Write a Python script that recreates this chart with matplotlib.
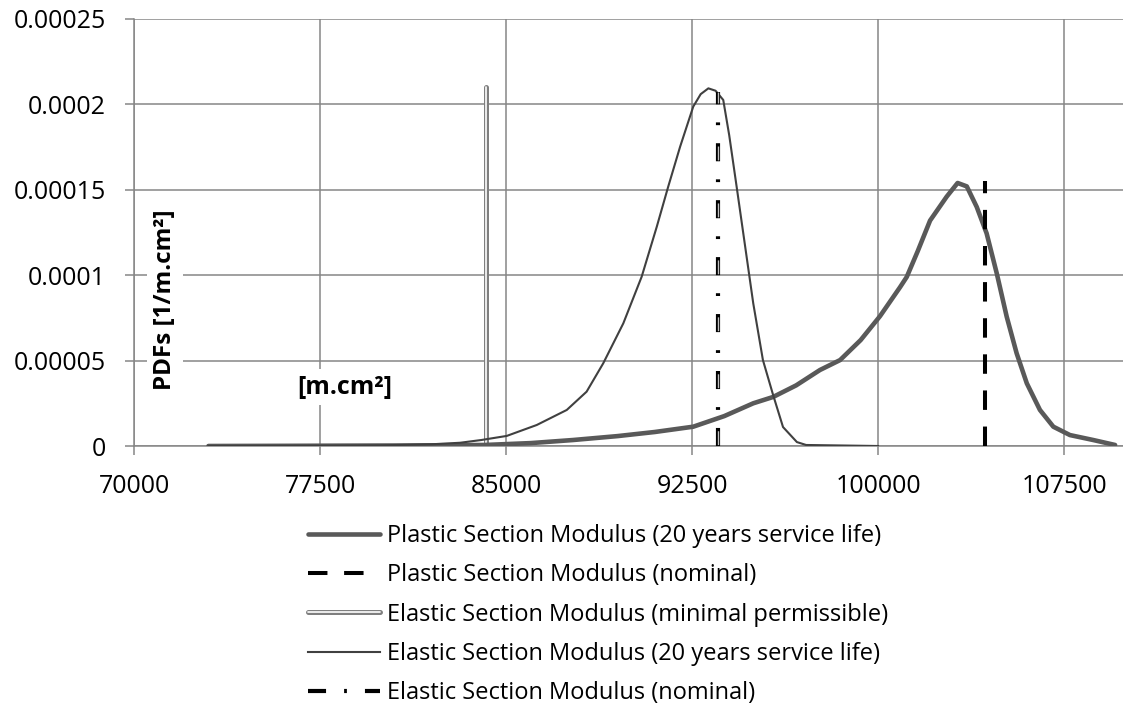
import matplotlib
matplotlib.use("Agg")
import matplotlib.pyplot as plt
import matplotlib.patheffects as pe

plt.rcParams['font.family'] = ['Open Sans', 'DejaVu Sans']
plt.rcParams['lines.scale_dashes'] = False

# values
plastic_x = [73000, 76000, 78300, 81000, 84150, 86000, 87700, 89500, 91000, 92550,
             93800, 94970, 95770, 96700, 97660, 98470, 99300, 100080, 100890, 101160,
             101600, 102100, 102770, 103210, 103580, 103980, 104380, 104790, 105190,
             105590, 106000, 106530, 107070, 107740, 108680, 109560]
plastic_y = [0, 0.0000001, 0.0000002, 0.0000003, 0.0000006, 0.0000017, 0.0000035,
             0.0000058, 0.0000082, 0.0000113, 0.0000175, 0.000025, 0.0000287,
             0.0000355, 0.0000445, 0.0000503, 0.000062, 0.000076, 0.000093, 0.000099,
             0.000114, 0.000132, 0.000146, 0.000154, 0.000152, 0.00014, 0.0001245,
             0.000101, 0.0000757, 0.0000543, 0.0000367, 0.0000211, 0.0000113,
             0.0000064, 0.0000035, 0.0000006]

elastic_x = [73000, 78000, 80000, 82000, 83150, 84000, 85030, 86240, 87450, 88250,
             88920, 89730, 90470, 91080, 91540, 92020, 92550, 92850, 93160, 93450,
             93760, 94000, 94300, 94970, 95360, 95770, 96170, 96730, 97100, 100000]
elastic_y = [0, 0.0000002, 0.0000004, 0.000001, 0.0000019, 0.0000035, 0.0000059,
             0.0000123, 0.0000211, 0.0000318, 0.0000484, 0.0000718, 0.0000991,
             0.0001284, 0.0001518, 0.0001752, 0.0001987, 0.000206, 0.0002094,
             0.000208, 0.0002026, 0.000182, 0.0001518, 0.0000835, 0.0000503,
             0.0000299, 0.0000111, 0.0000023, 0.0000006, 0]

plastic_nominal = 104315
plastic_nominal_top = 0.000155
elastic_min = 84180
elastic_min_top = 0.00021
elastic_nominal = 93530
elastic_nominal_top = 0.000207

x_ticks = [70000, 77500, 85000, 92500, 100000, 107500]
y_ticks = [0, 0.00005, 0.0001, 0.00015, 0.0002, 0.00025]
y_ticklabels = ['0', '0.00005', '0.0001', '0.00015', '0.0002', '0.00025']

labels = ['Plastic Section Modulus (20 years service life)',
          'Plastic Section Modulus (nominal)',
          'Elastic Section Modulus (minimal permissible)',
          'Elastic Section Modulus (20 years service life)',
          'Elastic Section Modulus (nominal)']

fig = plt.figure(figsize=(11.23, 7.04), dpi=100)
ax = fig.add_axes([134 / 1123, 1 - 446 / 704, 992 / 1123, 427 / 704])

grid_c = '#868686'

l1, = ax.plot(plastic_x, plastic_y, color='#595959', lw=3.3,
              solid_capstyle='round', solid_joinstyle='round', zorder=4)
l2, = ax.plot([plastic_nominal, plastic_nominal], [0, plastic_nominal_top],
              color='black', lw=2.9, linestyle=(0, (14, 12)), zorder=5)
l3, = ax.plot([elastic_min, elastic_min], [0, elastic_min_top], color='white',
              lw=1.2, solid_capstyle='round', zorder=3,
              path_effects=[pe.Stroke(linewidth=3.6, foreground='#7f7f7f'), pe.Normal()])
l4, = ax.plot(elastic_x, elastic_y, color='#404040', lw=1.5,
              solid_joinstyle='round', zorder=4)
# dash-dot line: black pattern with a light core inside the dashes
l5, = ax.plot([elastic_nominal, elastic_nominal], [0, elastic_nominal_top],
              color='black', lw=3.0, linestyle=(0, (13, 13, 2, 13)), zorder=5)
ax.plot([elastic_nominal, elastic_nominal], [0, elastic_nominal_top],
        color='#bfbfbf', lw=1.0, linestyle=(40, (10, 31)), zorder=6)

ax.set_xlim(70000, 110000)
ax.set_ylim(0, 0.00025)
ax.set_xticks(x_ticks)
ax.set_xticklabels([str(v) for v in x_ticks])
ax.set_yticks(y_ticks)
ax.set_yticklabels(y_ticklabels)
ax.grid(True, color=grid_c, lw=1.1)
ax.set_axisbelow(True)
for s in ['top', 'right']:
    ax.spines[s].set_visible(False)
for s in ['left', 'bottom']:
    ax.spines[s].set_color(grid_c)
    ax.spines[s].set_linewidth(1.1)
ax.tick_params(axis='both', colors=grid_c, length=6.5, width=1.1, labelcolor='black',
               labelsize=18)
ax.tick_params(axis='y', pad=14)
ax.tick_params(axis='x', pad=14)

ax.text(71250, 0.0000855, 'PDFs [1/m.cm²]', rotation=90, fontsize=17.5,
        fontweight='bold', ha='center', va='center', zorder=7,
        bbox=dict(facecolor='white', edgecolor='none', pad=4))
ax.text(78508, 0.0000345, '[m.cm²]', fontsize=18, fontweight='bold',
        ha='center', va='center', zorder=7,
        bbox=dict(facecolor='white', edgecolor='none', pad=4))

fig.legend([l1, l2, l3, l4, l5], labels, loc='upper left',
           bbox_to_anchor=(308 / 1123, 1 - 524 / 704), frameon=False,
           fontsize=17, handlelength=3.05, handletextpad=0.3,
           labelspacing=0.65, borderpad=0, borderaxespad=0)

fig.savefig('out.png', dpi=100)
